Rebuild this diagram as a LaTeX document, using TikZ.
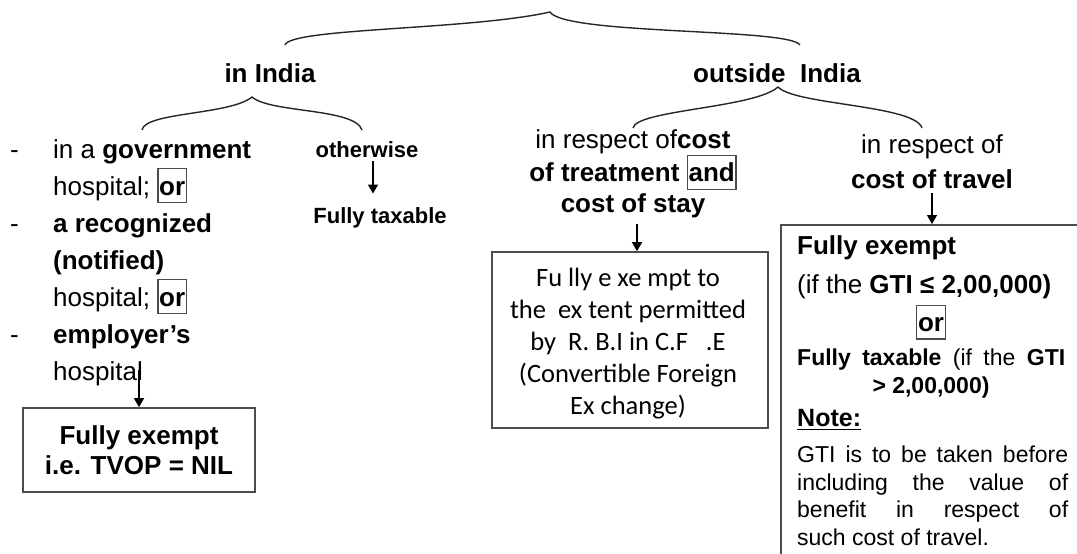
\documentclass[tikz,border=0pt]{standalone}
\usepackage{fontspec}
\setmainfont{Liberation Sans}
\newfontfamily\boxfont{Carlito}
\usetikzlibrary{arrows.meta}

% a word framed by a thin grey box
\newcommand\orbox[1]{{\fboxsep=0.6pt\fboxrule=1.3pt\fcolorbox{black!70}{white}{\rule[-0.24em]{0pt}{1.2em}#1}}}

\begin{document}
\begin{tikzpicture}[x=1pt,y=-1pt,
  every node/.style={inner sep=0pt},
  brace/.style={draw=black!85, line width=1.4pt},
  arr/.style={-{Triangle[length=9pt,width=10pt]}, line width=1.4pt},
  frame/.style={draw=black!70, line width=1.6pt, fill=white},
  head/.style={font=\bfseries\fontsize{26}{31}\selectfont},
  small/.style={font=\bfseries\fontsize{22}{26}\selectfont}]
\useasboundingbox (0,0) rectangle (1077,554);
\clip (0,0) rectangle (1077,554);

% ---- top brace ----
\coordinate (topL) at (285,45);
\coordinate (topT) at (550,12);
\coordinate (topR) at (800,45);
\draw[brace] (topL) .. controls (290,28) and (470,30) .. (topT)
             .. controls (565,35) and (790,28) .. (topR);

\node[head] (india) at (270,73) {in India};
\node[head] (outside) at (777,73) {outside~~India};

% ---- brace under "in India" ----
\coordinate (inL) at (142,130);
\coordinate (inT) at (252,97);
\coordinate (inR) at (362,130);
\draw[brace] (inL) .. controls (145,112) and (230,115) .. (inT)
             .. controls (270,113) and (355,108) .. (inR);

% ---- brace under "outside India" ----
\coordinate (outL) at (633,128);
\coordinate (outT) at (778,87);
\coordinate (outR) at (922,128);
\draw[brace] (outL) .. controls (636,110) and (755,108) .. (outT)
             .. controls (795,105) and (915,105) .. (outR);

% ---- in India: hospitals ----
\node[anchor=north west, align=left, font=\fontsize{26}{37}\selectfont] (list) at (10,139)
  {\makebox[43pt][l]{-}in a \textbf{government}\\
   \hspace*{43pt}hospital; \orbox{\textbf{or}}\\
   \makebox[43pt][l]{-}\textbf{a recognized}\\
   \hspace*{43pt}\textbf{(notified)}\\
   \hspace*{43pt}hospital; \orbox{\textbf{or}}\\
   \makebox[43pt][l]{-}\textbf{employer’s}\\
   \hspace*{43pt}hospital};
\coordinate (hosp) at (139,370);

\node[frame, minimum width=232pt, minimum height=84pt, align=center,
      font=\bfseries\fontsize{26}{30}\selectfont] (exempt) at (139,450)
  {Fully exempt\\i.e. TVOP = NIL};
\draw[arr] (hosp) -- (exempt.north);

% ---- in India: otherwise ----
\node[small] (other) at (367,150) {otherwise};
\node[small] (ftax) at (380,218) {Fully taxable};
\draw[arr] ([xshift=6pt,yshift=-3pt]other.south) -- ([xshift=-7pt,yshift=14pt]ftax.north);

% ---- outside India: treatment and stay ----
\node[align=center, font=\fontsize{26}{31}\selectfont] (treat) at (633,174)
  {in respect of\textbf{cost}\\
   \textbf{of treatment \orbox{and}}\\
   \textbf{cost of stay}};
\node[frame, minimum width=276pt, minimum height=176pt] (permit) at (630,340) {};
\node[align=center, font=\boxfont\fontsize{26.5}{32}\selectfont] (permittext) at (628,344)
  {Fu lly e xe mpt to\\
   the~ ex tent permitted\\
   by~ R. B.I in C.F~~ .E\\
   (Convertible Foreign\hspace*{22pt}\\
   Ex change)};
\draw[arr] ([xshift=4pt,yshift=-6pt]treat.south) -- ([xshift=7pt]permit.north);

% ---- outside India: travel ----
\node[align=center, font=\fontsize{26}{35}\selectfont] (travel) at (932,162)
  {in respect of\\\textbf{cost of travel}};
\node[frame, anchor=north west, minimum width=330pt, minimum height=360pt] (gtibox) at (780,224) {};
\draw[arr] ([yshift=-4pt]travel.south) -- (travel.south |- gtibox.north);

\node[anchor=west, font=\bfseries\fontsize{26}{30}\selectfont] (fex) at (797,248) {Fully exempt};
\node[anchor=west, font=\fontsize{26}{30}\selectfont] (cond1) at (797,287)
  {(if the \textbf{GTI ≤ 2,00,000)}};
\node[font=\bfseries\fontsize{26}{30}\selectfont] (or3) at (931,322) {\orbox{or}};
\node[anchor=west, font=\fontsize{23}{27}\selectfont] (cond2) at (797,360)
  {\makebox[268pt][s]{\textbf{Fully taxable} (if the \textbf{GTI}}};
\node[font=\bfseries\fontsize{23}{27}\selectfont] (cond3) at (931,388) {> 2,00,000)};
\node[anchor=west, font=\bfseries\fontsize{25}{30}\selectfont] (note) at (797,418) {Note:};
\draw[line width=1.6pt] ([yshift=-3pt]note.base west) -- ([yshift=-3pt]note.base east);
\node[anchor=north west, align=left, font=\fontsize{23}{27.5}\selectfont] (notetext) at (797,446)
  {\makebox[271pt][s]{GTI is to be taken before}\\
   \makebox[271pt][s]{including the value of}\\
   \makebox[271pt][s]{benefit in respect of}\\
   such cost of travel.};
\end{tikzpicture}
\end{document}
